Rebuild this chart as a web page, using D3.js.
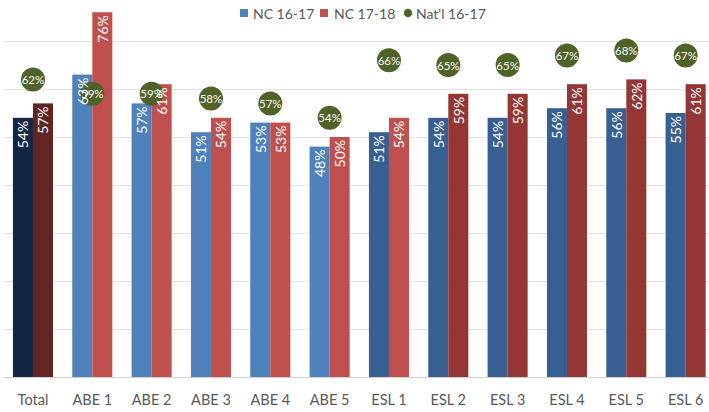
<!DOCTYPE html>
<html><head><meta charset="utf-8">
<script src="https://cdn.jsdelivr.net/npm/d3@7"></script>
<style>body{margin:0;background:#fff}svg{display:block}</style>
</head><body><svg id="c" width="709" height="412"></svg>
<script>
const categories = ["Total","ABE 1","ABE 2","ABE 3","ABE 4","ABE 5","ESL 1","ESL 2","ESL 3","ESL 4","ESL 5","ESL 6"];
const nc1617 = [54,63,57,51,53,48,51,54,54,56,56,55];
const nc1718 = [57,76,61,54,53,50,54,59,59,61,62,61];
const natl1617 = [62,59,59,58,57,54,66,65,65,67,68,67];
const seriesNames = ["NC 16-17","NC 17-18","Nat'l 16-17"];
const yTicks = [0,10,20,30,40,50,60,70];
// per-category bar colours (Excel varied points)
const colors1617 = ["#132744","#4F81BD","#4F81BD","#4F81BD","#4F81BD","#4F81BD","#375F92","#375F92","#375F92","#375F92","#375F92","#375F92"];
const colors1718 = ["#632523","#C0504D","#C0504D","#C0504D","#C0504D","#C0504D","#C0504D","#943634","#943634","#943634","#943634","#943634"];
const dotColor = "#4F6228";
const FONT = "Lato, 'Open Sans', sans-serif";

const svg = d3.select("#c");
const y = d3.scaleLinear().domain([0,70]).range([377,41]);
const x0 = d3.scaleBand().domain(categories).range([3.3,715.3]).paddingInner(0.325).paddingOuter(0.1625);
const x1 = d3.scaleBand().domain([0,1]).range([0,x0.bandwidth()]);

// gridlines
svg.append("g").selectAll("line").data(yTicks).join("line")
  .attr("x1",3).attr("x2",709)
  .attr("y1",d=>Math.round(y(d))+0.5).attr("y2",d=>Math.round(y(d))+0.5)
  .attr("stroke",d=>d===0?"#d0d0d0":"#e3e3e3").attr("stroke-width",1);

const data = categories.map((c,i)=>({c,i,v:[nc1617[i],nc1718[i]],n:natl1617[i]}));
const g = svg.append("g").selectAll("g").data(data).join("g")
  .attr("transform",d=>`translate(${x0(d.c)},0)`);

g.selectAll("rect").data(d=>d.v.map((v,k)=>({v,k,i:d.i}))).join("rect")
  .attr("x",d=>x1(d.k)).attr("width",x1.bandwidth())
  .attr("y",d=>y(d.v)).attr("height",d=>y(0)-y(d.v))
  .attr("fill",d=>d.k===0?colors1617[d.i]:colors1718[d.i]);

// national dots
g.append("circle").attr("cx",x0.bandwidth()/2).attr("cy",d=>y(d.n)).attr("r",12).attr("fill",dotColor);

// bar labels
g.selectAll("text.bl").data(d=>d.v.map((v,k)=>({v,k}))).join("text").attr("class","bl")
  .attr("transform",d=>`translate(${x1(d.k)+x1.bandwidth()/2},${y(d.v)+3}) rotate(-90)`)
  .attr("text-anchor","end").attr("dominant-baseline","central")
  .attr("fill","#fff").attr("font-family",FONT).attr("font-size",14)
  .text(d=>d.v+"%");

// dot labels
g.append("text").attr("x",x0.bandwidth()/2).attr("y",d=>y(d.n))
  .attr("text-anchor","middle").attr("dominant-baseline","central")
  .attr("fill","#fff").attr("font-family",FONT).attr("font-size",11.5)
  .text(d=>d.n+"%");

// category labels
svg.append("g").selectAll("text").data(categories).join("text")
  .attr("x",d=>x0(d)+x0.bandwidth()/2).attr("y",405)
  .attr("text-anchor","middle").attr("fill","#595959")
  .attr("font-family",FONT).attr("font-size",14.5).text(d=>d);

// legend
const leg = svg.append("g").attr("font-family",FONT).attr("font-size",14).attr("fill","#595959");
leg.append("rect").attr("x",240).attr("y",9).attr("width",8).attr("height",8).attr("fill","#4F81BD");
leg.append("text").attr("x",253).attr("y",18.5).text(seriesNames[0]);
leg.append("rect").attr("x",320).attr("y",9).attr("width",8).attr("height",8).attr("fill","#C0504D");
leg.append("text").attr("x",334).attr("y",18.5).text(seriesNames[1]);
leg.append("circle").attr("cx",408).attr("cy",13).attr("r",4.2).attr("fill",dotColor);
leg.append("text").attr("x",416).attr("y",18.5).text(seriesNames[2]);
</script></body></html>
